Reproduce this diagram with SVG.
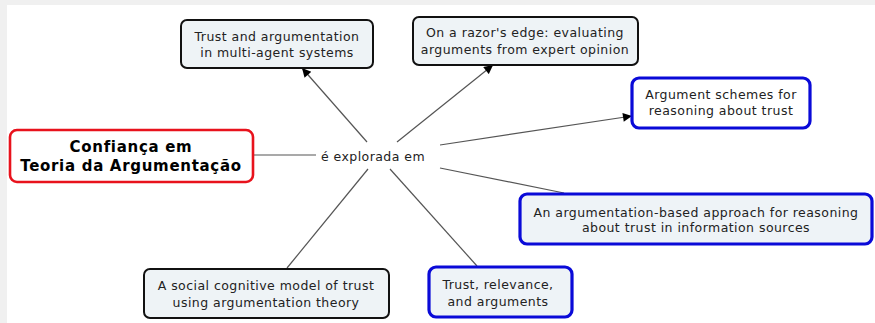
<svg xmlns="http://www.w3.org/2000/svg" width="875" height="323" viewBox="0 0 875 323">
<defs>
<marker id="arr" viewBox="0 0 10 10" refX="10" refY="5" markerWidth="11" markerHeight="9" markerUnits="userSpaceOnUse" orient="auto">
<path d="M0,0 L10,5 L0,10 z" fill="#000"/>
</marker>
</defs>
<style>
.t{font-family:"DejaVu Sans",Verdana,sans-serif;font-size:12.5px;letter-spacing:0.45px;fill:#222;text-anchor:middle}
.m{font-family:"DejaVu Sans",Verdana,sans-serif;font-size:15px;letter-spacing:0.7px;font-weight:bold;fill:#000;text-anchor:middle}
.bk{fill:#eef3f6;stroke:#111;stroke-width:2}
.bl{fill:#eef3f7;stroke:#0a0ad8;stroke-width:3.2}
.rd{fill:#fff;stroke:#e8121c;stroke-width:2.6}
.c{stroke:#555;stroke-width:1.2;fill:none}
</style>
<rect x="0" y="0" width="875" height="323" fill="#f0f0f0"/>
<rect x="7" y="5" width="868" height="318" fill="#fff"/>
<g id="connectors">
<line class="c" x1="253" y1="155" x2="316" y2="155"/>
<line class="c" x1="367" y1="142" x2="302" y2="68" marker-end="url(#arr)"/>
<line class="c" x1="397" y1="142" x2="493" y2="65" marker-end="url(#arr)"/>
<line class="c" x1="440" y1="145" x2="632" y2="116" marker-end="url(#arr)"/>
<line class="c" x1="440" y1="168" x2="564" y2="193"/>
<line class="c" x1="368" y1="169" x2="287" y2="268"/>
<line class="c" x1="390" y1="169" x2="477" y2="266"/>
</g>
<g id="main">
<rect class="rd" x="10" y="130" width="243" height="52" rx="7"/>
<text class="m" x="131" y="152">Confiança em</text>
<text class="m" x="131" y="171">Teoria da Argumentação</text>
</g>
<g id="phrase">
<text class="t" x="373" y="161">é explorada em</text>
</g>
<g id="n1">
<rect class="bk" x="181" y="20" width="192" height="48" rx="6"/>
<text class="t" x="277" y="41">Trust and argumentation</text>
<text class="t" x="277" y="57">in multi-agent systems</text>
</g>
<g id="n2">
<rect class="bk" x="413" y="17" width="225" height="48" rx="6"/>
<text class="t" x="525" y="37">On a razor's edge: evaluating</text>
<text class="t" x="525" y="54">arguments from expert opinion</text>
</g>
<g id="n3">
<rect class="bl" x="632" y="78" width="178" height="50" rx="7" style="fill:#fff"/>
<text class="t" x="721" y="99">Argument schemes for</text>
<text class="t" x="721" y="115">reasoning about trust</text>
</g>
<g id="n6">
<rect class="bl" x="520" y="194" width="352" height="50" rx="7"/>
<text class="t" x="696" y="217">An argumentation-based approach for reasoning</text>
<text class="t" x="696" y="232">about trust in information sources</text>
</g>
<g id="n7">
<rect class="bk" x="144" y="269" width="245" height="49" rx="6"/>
<text class="t" x="266" y="290">A social cognitive model of trust</text>
<text class="t" x="266" y="307">using argumentation theory</text>
</g>
<g id="n8">
<rect class="bl" x="429" y="267" width="143" height="50" rx="7"/>
<text class="t" x="498" y="289">Trust, relevance,</text>
<text class="t" x="498" y="306">and arguments</text>
</g>
</svg>
